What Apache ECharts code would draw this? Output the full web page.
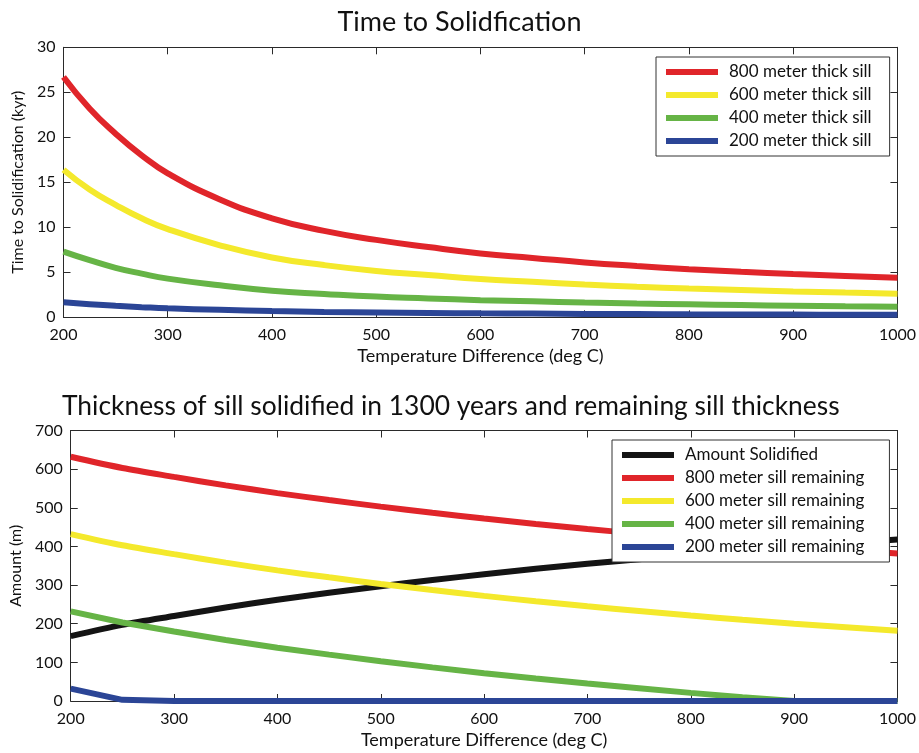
<!DOCTYPE html>
<html>
<head>
<meta charset="utf-8">
<script src="https://cdn.jsdelivr.net/npm/echarts@6/dist/echarts.min.js"></script>
<style>
html,body{margin:0;padding:0;background:#fff;}
#chart{width:919px;height:753px;}
</style>
</head>
<body>
<div id="chart"></div>
<script>
// ---- Data ----
// Top chart: time to solidification (kyr)
const tempTop = [200,225,250,275,300,350,400,450,500,550,600,650,700,750,800,850,900,950,1000];
const time800 = [26.7,23.2,20.4,18.0,16.0,13.1,11.0,9.6,8.6,7.8,7.1,6.6,6.1,5.7,5.35,5.05,4.8,4.6,4.4];
const time600 = [16.4,14.2,12.5,11.0,9.8,8.0,6.65,5.8,5.15,4.7,4.25,3.95,3.65,3.4,3.2,3.03,2.88,2.75,2.63];
const time400 = [7.3,6.35,5.5,4.85,4.3,3.55,2.95,2.6,2.3,2.1,1.9,1.77,1.64,1.53,1.44,1.36,1.29,1.23,1.18];
const time200 = [1.67,1.45,1.28,1.13,1.0,0.83,0.69,0.6,0.54,0.49,0.44,0.41,0.38,0.36,0.33,0.315,0.3,0.285,0.275];

// Bottom chart: thickness (m)
const tempBot = [200,250,300,350,400,450,500,550,600,650,700,750,800,850,900,950,1000];
const solidified = [168,197,220,242,262,280,297,313,328,342,355,367,379,390,400,409,418];
const remain800 = [632,603,580,558,538,520,503,487,472,458,445,433,421,410,400,391,382];
const remain600 = [432,403,380,358,338,320,303,287,272,258,245,233,221,210,200,191,182];
const remain400 = [232,203,180,158,138,120,103,87,72,58,45,33,21,10,0,0,0];
const remain200 = [32,3,0,0,0,0,0,0,0,0,0,0,0,0,0,0,0];

const topNames = ['800 meter thick sill','600 meter thick sill','400 meter thick sill','200 meter thick sill'];
const botNames = ['Amount Solidified','800 meter sill remaining','600 meter sill remaining','400 meter sill remaining','200 meter sill remaining'];

// ---- Styling ----
const FONT = 'Lato, "Open Sans", sans-serif';
const C = {red:'#e0252a', yellow:'#f4e92c', green:'#66b446', blue:'#2b4596', black:'#141414'};
const AX = '#2a2a2a';

function pairs(xs, ys){ return xs.map((x,i)=>[x, ys[i]]); }

function xAx(grid, pos, show){
  return {
    type:'value', gridIndex:grid, position:pos, min:200, max:1000, interval:100,
    axisLine:{show:true, onZero:false, lineStyle:{color:AX, width:1}},
    axisTick:{show:true, inside:true, length:7, lineStyle:{color:AX}},
    splitLine:{show:false},
    axisLabel:{show:show, fontFamily:FONT, fontSize:16, color:'#111', margin:10, formatter:(v)=>String(v)},
    name: show ? 'Temperature Difference (deg C)' : '',
    nameLocation:'middle', nameGap:30,
    nameTextStyle:{fontFamily:FONT, fontSize:18, color:'#111'}
  };
}
function yAx(grid, pos, show, max, interval, name){
  return {
    type:'value', gridIndex:grid, position:pos, min:0, max:max, interval:interval,
    axisLine:{show:true, onZero:false, lineStyle:{color:AX, width:1}},
    axisTick:{show:true, inside:true, length:7, lineStyle:{color:AX}},
    splitLine:{show:false},
    axisLabel:{show:show, fontFamily:FONT, fontSize:16, color:'#111', margin:8, formatter:(v)=>String(v)},
    name: show ? name : '',
    nameLocation:'middle', nameGap:38,
    nameTextStyle:{fontFamily:FONT, fontSize:16, color:'#111'}
  };
}
function line(name, data, color, xi, yi, smooth){
  return {
    type:'line', name:name, data:data, xAxisIndex:xi, yAxisIndex:yi,
    showSymbol:false, symbol:'none', smooth:smooth,
    lineStyle:{color:color, width:6}, itemStyle:{color:color}, z:2
  };
}
const legendBase = {
  orient:'vertical', icon:'rect', itemWidth:52, itemHeight:6, itemGap:5,
  backgroundColor:'#fff', borderColor:'#333', borderWidth:1,
  textStyle:{fontFamily:FONT, fontSize:17, color:'#111', lineHeight:18, padding:[0,0,0,6]},
  selectedMode:false, z:10
};

const option = {
  animation:false,
  backgroundColor:'#fff',
  title:[
    {text:'Time to Solidfication', left:'center', top:4, textStyle:{fontFamily:FONT, fontSize:27, fontWeight:'normal', color:'#111'}},
    {text:'Thickness of sill solidified in 1300 years and remaining sill thickness', left:57, top:388, textStyle:{fontFamily:FONT, fontSize:26.4, fontWeight:'normal', color:'#111'}}
  ],
  grid:[
    {left:63.5, top:47.3, width:835, height:270},
    {left:63.5, top:430.5, width:835, height:270.5}
  ],
  xAxis:[ xAx(0,'bottom',true), xAx(0,'top',false), xAx(1,'bottom',true), xAx(1,'top',false) ],
  yAxis:[
    yAx(0,'left',true,30,5,'Time to Solidification (kyr)'), yAx(0,'right',false,30,5,''),
    yAx(1,'left',true,700,100,'Amount (m)'), yAx(1,'right',false,700,100,'')
  ],
  legend:[
    Object.assign({}, legendBase, {data:topNames, left:656, top:57, padding:[6,18,6,10]}),
    Object.assign({}, legendBase, {data:botNames, left:612, top:440, padding:[6,25,6,10]})
  ],
  series:[
    line(topNames[0], pairs(tempTop, time800), C.red, 0, 0, 0.5),
    line(topNames[1], pairs(tempTop, time600), C.yellow, 0, 0, 0.5),
    line(topNames[2], pairs(tempTop, time400), C.green, 0, 0, 0.5),
    line(topNames[3], pairs(tempTop, time200), C.blue, 0, 0, 0.5),
    line(botNames[0], pairs(tempBot, solidified), C.black, 2, 2, 0.3),
    line(botNames[1], pairs(tempBot, remain800), C.red, 2, 2, 0.3),
    line(botNames[2], pairs(tempBot, remain600), C.yellow, 2, 2, 0.3),
    line(botNames[3], pairs(tempBot, remain400), C.green, 2, 2, false),
    line(botNames[4], pairs(tempBot, remain200), C.blue, 2, 2, false)
  ]
};
const chart = echarts.init(document.getElementById('chart'), null, {renderer:'canvas'});
chart.setOption(option);
</script>
</body>
</html>
